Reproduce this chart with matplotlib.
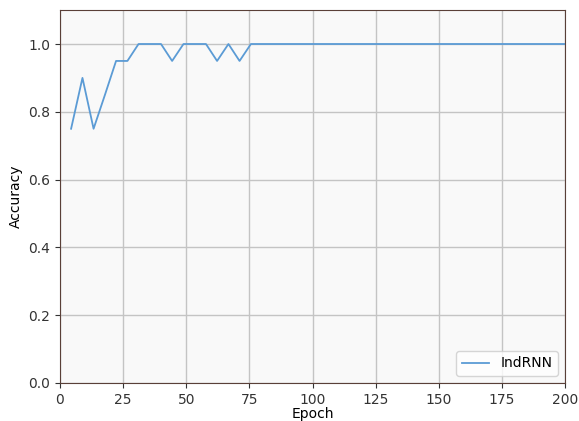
import matplotlib
matplotlib.use('Agg')
import matplotlib.pyplot as plt

# epocas registradas (a cada ~4.44)
epochs = [4.4, 8.9, 13.3, 17.8, 22.2, 26.7, 31.1, 35.6, 40.0, 44.4,
          48.9, 53.3, 57.8, 62.2, 66.7, 71.1, 75.6, 80.0, 84.4, 88.9,
          93.3, 97.8, 102.2, 106.7, 111.1, 115.6, 120.0, 124.4, 128.9, 133.3,
          137.8, 142.2, 146.7, 151.1, 155.6, 160.0, 164.4, 168.9, 173.3, 177.8,
          182.2, 186.7, 191.1, 195.6, 200.0]
accuracy = [0.75, 0.90, 0.75, 0.85, 0.95, 0.95, 1.0, 1.0, 1.0, 0.95,
            1.0, 1.0, 1.0, 0.95, 1.0, 0.95, 1.0, 1.0, 1.0, 1.0,
            1.0, 1.0, 1.0, 1.0, 1.0, 1.0, 1.0, 1.0, 1.0, 1.0,
            1.0, 1.0, 1.0, 1.0, 1.0, 1.0, 1.0, 1.0, 1.0, 1.0,
            1.0, 1.0, 1.0, 1.0, 1.0]
x_ticks = [0, 25, 50, 75, 100, 125, 150, 175, 200]
y_ticks = [0.0, 0.2, 0.4, 0.6, 0.8, 1.0]

fig = plt.figure(figsize=(5.79, 4.21), dpi=100)
ax = fig.add_axes([0.1036, 0.0903, 0.8724, 0.8857])
ax.set_facecolor('#f9f9f9')

ax.plot(epochs, accuracy, color='#5b9bd5', linewidth=1.3, label='IndRNN')

ax.set_xlim(0, 200)
ax.set_ylim(0, 1.1)
ax.set_xticks(x_ticks)
ax.set_yticks(y_ticks)
ax.grid(True, color='#c4c4c4', linewidth=1.0)
ax.set_axisbelow(True)

for s in ax.spines.values():
    s.set_color('#5a4038')

ax.set_xlabel('Epoch', fontsize=10, labelpad=0)
ax.set_ylabel('Accuracy', fontsize=10)
ax.tick_params(labelsize=10, colors='#333333')
ax.legend(loc='lower right', fontsize=10)

fig.savefig('out.png', dpi=100)
